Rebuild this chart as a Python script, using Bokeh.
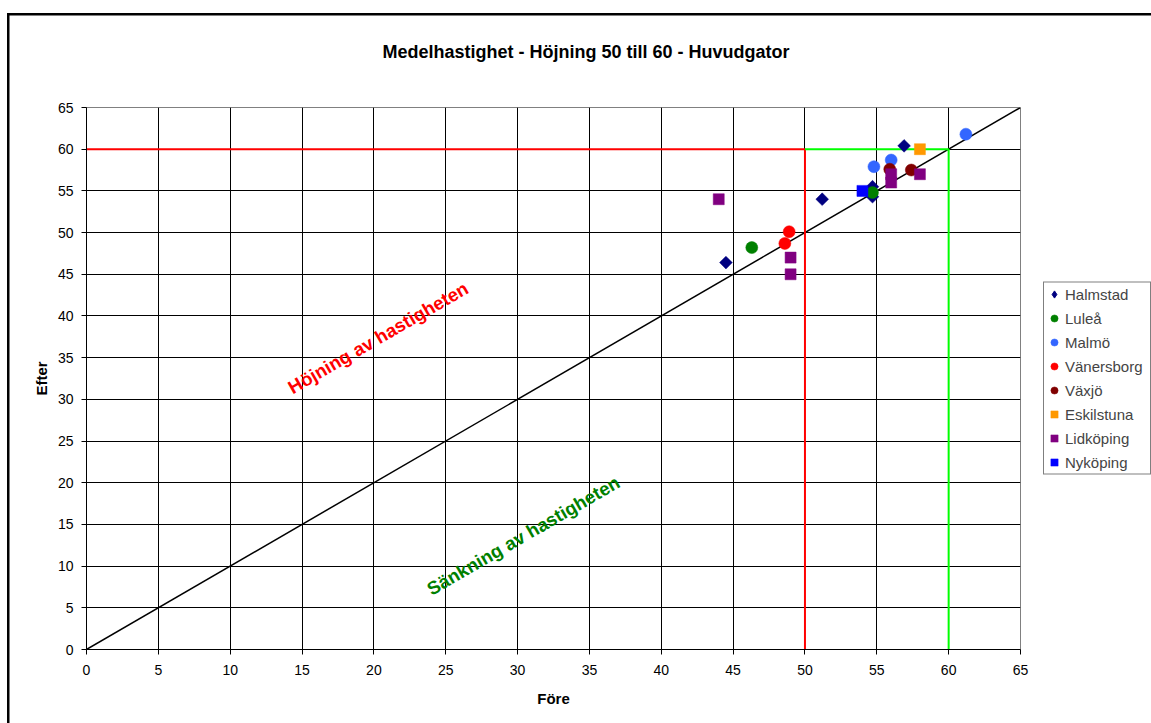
import math
from bokeh.plotting import figure
from bokeh.models import (Range1d, FixedTicker, Legend, LegendItem, Label, Title)
from bokeh.embed import file_html
from bokeh.resources import INLINE

FONT = "Liberation Sans"

# ---- data ----
title_text = "Medelhastighet - Höjning 50 till 60 - Huvudgator"
x_label = "Före"
y_label = "Efter"
ticks = [0, 5, 10, 15, 20, 25, 30, 35, 40, 45, 50, 55, 60, 65]

halmstad_x = [44.5, 51.2, 54.7, 54.7, 56.9]
halmstad_y = [46.4, 54.0, 55.5, 54.3, 60.4]
lulea_x = [46.3, 54.7]
lulea_y = [48.2, 54.8]
malmo_x = [54.8, 56.0, 61.2]
malmo_y = [57.9, 58.7, 61.8]
vanersborg_x = [48.6, 48.9]
vanersborg_y = [48.7, 50.1]
vaxjo_x = [55.9, 57.4]
vaxjo_y = [57.6, 57.5]
eskilstuna_x = [58.0]
eskilstuna_y = [60.0]
lidkoping_x = [44.0, 49.0, 49.0, 56.0, 56.0, 58.0]
lidkoping_y = [54.0, 47.0, 45.0, 57.0, 56.0, 57.0]
nykoping_x = [54.0]
nykoping_y = [55.0]

old_limit = 50
new_limit = 60
axis_max = 65

# name, x, y, marker (plot), marker (legend), colour, size, angle
series = [
    ("Halmstad", halmstad_x, halmstad_y, "square", "diamond", "#000080", 9, math.pi / 4),
    ("Luleå", lulea_x, lulea_y, "circle", "circle", "#008000", 12, 0),
    ("Malmö", malmo_x, malmo_y, "circle", "circle", "#3366FF", 12, 0),
    ("Vänersborg", vanersborg_x, vanersborg_y, "circle", "circle", "#FF0000", 12, 0),
    ("Växjö", vaxjo_x, vaxjo_y, "circle", "circle", "#800000", 12, 0),
    ("Eskilstuna", eskilstuna_x, eskilstuna_y, "square", "square", "#FF9900", 11, 0),
    ("Lidköping", lidkoping_x, lidkoping_y, "square", "square", "#800080", 11, 0),
    ("Nyköping", nykoping_x, nykoping_y, "square", "square", "#0000FF", 11, 0),
]

p = figure(frame_width=934, frame_height=542,
           x_range=Range1d(0, axis_max), y_range=Range1d(0, axis_max),
           output_backend="svg", toolbar_location=None,
           min_border_left=86, min_border_right=131,
           min_border_top=107, min_border_bottom=74,
           title=None)

# spacer between frame and title (empty text), then the real title above it
p.add_layout(Title(text=" ", text_font_size="1px", standoff=43), "above")
p.add_layout(Title(text=title_text, text_font=FONT, text_font_size="18px",
                   text_font_style="bold", text_color="black",
                   align="left", offset=296, vertical_align="bottom",
                   standoff=0), "above")

p.outline_line_color = "#808080"
p.background_fill_color = "white"
p.border_fill_color = None

# outer chart border drawn as a CSS background behind the transparent canvas border
p.styles = {
    "background-color": "white",
    "background-image": "linear-gradient(#000, #000), linear-gradient(#000, #000)",
    "background-size": "2.5px 100%, 100% 2.5px",
    "background-position": "7px 13px, 7px 13px",
    "background-repeat": "no-repeat",
}

for ax in (p.xaxis[0], p.yaxis[0]):
    ax.ticker = FixedTicker(ticks=ticks)
    ax.major_label_text_font = FONT
    ax.major_label_text_font_size = "14px"
    ax.major_label_text_color = "black"
    ax.axis_label_text_font = FONT
    ax.axis_label_text_font_size = "15px"
    ax.axis_label_text_font_style = "bold"
    ax.axis_label_text_color = "black"
    ax.minor_tick_line_color = None
    ax.major_tick_in = 0
    ax.major_tick_out = 5
    ax.axis_line_color = "black"
    ax.major_tick_line_color = "black"

p.xaxis.axis_label = x_label
p.yaxis.axis_label = y_label
p.xaxis.major_label_standoff = 10
p.yaxis.major_label_standoff = 8
p.xaxis.axis_label_standoff = 12
p.yaxis.axis_label_standoff = 5

p.xgrid.ticker = FixedTicker(ticks=ticks)
p.ygrid.ticker = FixedTicker(ticks=ticks)
p.grid.grid_line_color = "black"
p.grid.grid_line_width = 1

# reference lines
p.line([0, axis_max], [0, axis_max], line_color="black", line_width=1.5)
p.line([0, old_limit, old_limit], [new_limit, new_limit, 0],
       line_color="#FF0000", line_width=2)
p.line([old_limit, new_limit, new_limit], [new_limit, new_limit, 0],
       line_color="#00FF00", line_width=2)

items = []
for name, xs, ys, marker, leg_marker, color, size, ang in series:
    r = p.scatter(xs, ys, marker=marker, size=size, angle=ang,
                  fill_color=color, line_color=color, line_width=0.5)
    if leg_marker != marker:
        # legend-only glyph (no visible point) with the legend's marker shape
        lr = p.scatter([float("nan")], [float("nan")], marker=leg_marker,
                       size=size, fill_color=color, line_color=color)
        items.append(LegendItem(label=name, renderers=[lr]))
    else:
        items.append(LegendItem(label=name, renderers=[r]))

legend = Legend(items=items, location="left", orientation="vertical",
                label_text_font=FONT, label_text_font_size="15px",
                label_height=21, glyph_height=21, glyph_width=18,
                label_width=84, label_standoff=2, spacing=3, padding=1,
                margin=23,
                border_line_color="black", border_line_width=1,
                background_fill_color="white", background_fill_alpha=1)
p.add_layout(legend, "right")

p.add_layout(Label(x=14.13, y=31.25, text="Höjning av hastigheten",
                   angle=30, angle_units="deg", text_color="#FF0000",
                   text_font=FONT, text_font_size="18.6px",
                   text_font_style="bold",
                   text_baseline="alphabetic", text_align="left"))
p.add_layout(Label(x=23.8, y=7.1, text="Sänkning av hastigheten",
                   angle=30, angle_units="deg", text_color="#008000",
                   text_font=FONT, text_font_size="18.6px",
                   text_font_style="bold",
                   text_baseline="alphabetic", text_align="left"))

open("out.html", "w").write(file_html(p, INLINE))
